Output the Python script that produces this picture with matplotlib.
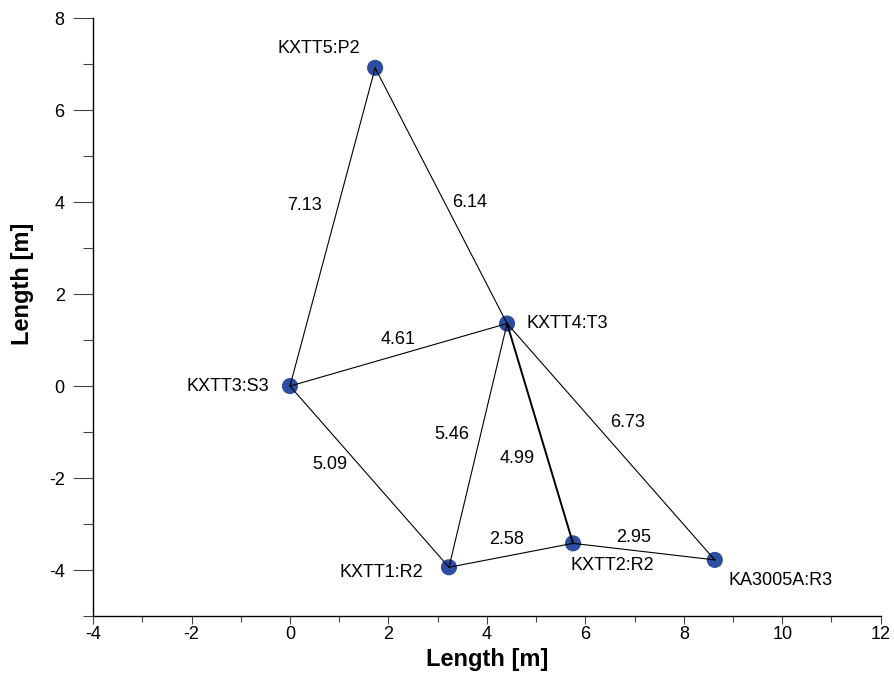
import matplotlib.pyplot as plt
from matplotlib.ticker import MultipleLocator

plt.rcParams['font.family'] = ['Liberation Sans', 'DejaVu Sans']
plt.rcParams['axes.unicode_minus'] = False

# borehole section positions [m]
names = ["KXTT3:S3", "KXTT5:P2", "KXTT4:T3", "KXTT1:R2", "KXTT2:R2", "KA3005A:R3"]
xs = [0.0, 1.73, 4.41, 3.23, 5.75, 8.63]
ys = [0.0, 6.92, 1.36, -3.94, -3.42, -3.78]

# connections (index pairs) and their distance labels
edges = [(0, 1), (1, 2), (0, 2), (0, 3), (2, 3), (2, 4), (3, 4), (4, 5), (2, 5)]
dists = ["7.13", "6.14", "4.61", "5.09", "5.46", "4.99", "2.58", "2.95", "6.73"]
dist_x = [0.30, 3.64, 2.19, 0.82, 3.29, 4.61, 4.39, 6.98, 6.85]
dist_y = [3.92, 4.00, 1.02, -1.70, -1.05, -1.58, -3.34, -3.30, -0.79]

# label offsets (points) and alignment for each section name
name_off = [(-15, 0), (-11, 14), (14, 0), (-18.5, -3.5), (-1.5, -16), (10, -15)]
name_ha = ["right", "right", "left", "right", "left", "left"]

fig = plt.figure(figsize=(8.95, 7.0), dpi=100)
ax = fig.add_axes([0.104, 0.12, 0.88, 0.854])

ax.scatter(xs, ys, s=135, color="#2d4ea0", zorder=2, edgecolors="none")
for (i, j), d, tx, ty in zip(edges, dists, dist_x, dist_y):
    lw = 1.4 if (i, j) == (2, 4) else 0.8
    ax.plot([xs[i], xs[j]], [ys[i], ys[j]], color="black", lw=lw, zorder=3)
    ax.text(tx, ty, d, fontsize=13, ha="center", va="center")

for n, x, y, off, ha in zip(names, xs, ys, name_off, name_ha):
    ax.annotate(n, (x, y), xytext=off, textcoords="offset points",
                ha=ha, va="center", fontsize=13)

ax.set_xlim(-4, 12)
ax.set_ylim(-5, 8)
ax.xaxis.set_major_locator(MultipleLocator(2))
ax.xaxis.set_minor_locator(MultipleLocator(1))
ax.yaxis.set_major_locator(MultipleLocator(2))
ax.yaxis.set_minor_locator(MultipleLocator(1))
ax.tick_params(which="both", direction="out", width=0.8, labelsize=13, color="#444444")
ax.tick_params(axis="y", which="major", length=14.4, pad=6)
ax.tick_params(axis="y", which="minor", length=7.2)
ax.tick_params(axis="x", which="major", length=6, pad=1)
ax.tick_params(axis="x", which="minor", length=4)
for s in ["top", "right"]:
    ax.spines[s].set_visible(False)
for s in ["left", "bottom"]:
    ax.spines[s].set_linewidth(1.0)

ax.set_xlabel("Length [m]", fontsize=17, fontweight="bold", labelpad=4)
ax.set_ylabel("Length [m]", fontsize=17, fontweight="bold", labelpad=7)
ax.yaxis.set_label_coords(-0.075, 0.555)

fig.savefig("out.png", dpi=100)
